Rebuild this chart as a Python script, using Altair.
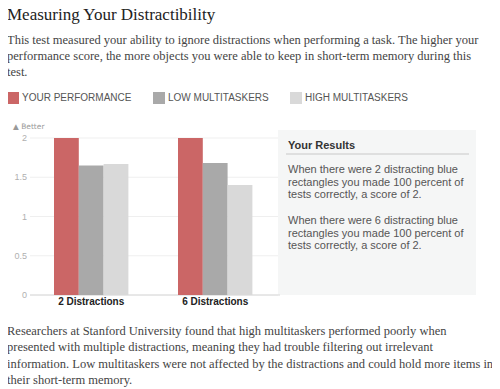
import altair as alt
import pandas as pd

# ---- data ----
groups = ["2 Distractions", "6 Distractions"]
series = ["Your Performance", "Low Multitaskers", "High Multitaskers"]
values_2 = [2.0, 1.65, 1.67]
values_6 = [2.0, 1.68, 1.40]
colors = ["#cb6666", "#a9a9a9", "#d9d9d9"]
y_ticks = [0, 0.5, 1, 1.5, 2]
y_tick_labels = ["0", "0.5", "1", "1.5", "2"]

title_text = "Measuring Your Distractibility"
intro_lines = [
    "This test measured your ability to ignore distractions when performing a task. The higher your",
    "performance score, the more objects you were able to keep in short-term memory during this",
    "test.",
]
results_title = "Your Results"
results_lines_2 = [
    "When there were 2 distracting blue",
    "rectangles you made 100 percent of",
    "tests correctly, a score of 2.",
]
results_lines_6 = [
    "When there were 6 distracting blue",
    "rectangles you made 100 percent of",
    "tests correctly, a score of 2.",
]
outro_lines = [
    "Researchers at Stanford University found that high multitaskers performed poorly when",
    "presented with multiple distractions, meaning they had trouble filtering out irrelevant",
    "information. Low multitaskers were not affected by the distractions and could hold more items in",
    "their short-term memory.",
]
better_label = "\u25B2 Better"

rows = []
for g, vals in zip(groups, [values_2, values_6]):
    for s, v in zip(series, vals):
        rows.append({"group": g, "series": s, "value": v})
df = pd.DataFrame(rows)
ticks_df = pd.DataFrame({"tick": y_ticks, "label": y_tick_labels})
one = alt.InlineData(values=[{"k": 0}])

SERIF = "Liberation Serif"
SANS = "Liberation Sans"

x_scale = alt.Scale(domain=groups, range=[21.2, 269.2], paddingInner=0.4, paddingOuter=0.2)
y_scale = alt.Scale(domain=[0, 2], range=[287, 130], nice=False, zero=True)

panel = alt.Chart(one).mark_rect(color="#f5f6f6").encode(
    x=alt.value(270), x2=alt.value(468), y=alt.value(122), y2=alt.value(287)
)

grid = alt.Chart(ticks_df).mark_rule(color="#efefef", strokeWidth=1).encode(
    y=alt.Y("tick:Q", scale=y_scale, axis=None),
    x=alt.value(22), x2=alt.value(270),
)
baseline = alt.Chart(ticks_df).transform_filter("datum.tick == 0").mark_rule(
    color="#d8d8d8", strokeWidth=1
).encode(
    y=alt.Y("tick:Q", scale=y_scale, axis=None),
    x=alt.value(22), x2=alt.value(272),
)
tick_text = alt.Chart(ticks_df).mark_text(
    align="right", baseline="middle", font=SANS, fontSize=9, color="#b0b0b0"
).encode(
    y=alt.Y("tick:Q", scale=y_scale, axis=None),
    x=alt.value(19),
    text="label:N",
)

bars = alt.Chart(df).mark_bar().encode(
    x=alt.X("group:N", scale=x_scale, axis=None, sort=groups),
    xOffset=alt.XOffset("series:N", sort=series, scale=alt.Scale(paddingInner=0, paddingOuter=0)),
    y=alt.Y("value:Q", scale=y_scale, axis=None),
    color=alt.Color(
        "series:N",
        sort=series,
        scale=alt.Scale(domain=series, range=colors),
        legend=alt.Legend(
            title=None,
            orient="none",
            legendX=-1,
            legendY=84,
            direction="horizontal",
            symbolType="square",
            symbolSize=144,
            symbolStrokeWidth=0,
            symbolOpacity=1,
            labelFont=SANS,
            labelFontSize=10,
            labelColor="#555555",
            labelOffset=3,
            columnPadding=21,
            labelExpr="upper(datum.label)",
            labelLimit=300,
        ),
    ),
)

group_labels = alt.Chart(pd.DataFrame({"group": groups})).mark_text(
    font=SANS, fontSize=10, fontWeight="bold", color="#222222", baseline="middle"
).encode(
    x=alt.X("group:N", scale=x_scale, axis=None, sort=groups),
    y=alt.value(294),
    text="group:N",
)

better = alt.Chart(one).mark_text(
    align="left", baseline="middle", font="DejaVu Sans", fontSize=7.5, color="#999999"
).encode(x=alt.value(5), y=alt.value(119), text=alt.value(better_label))

title = alt.Chart(one).mark_text(
    align="left", baseline="alphabetic", font=SERIF, fontSize=17, color="#222222"
).encode(x=alt.value(-1), y=alt.value(11.5), text=alt.value(title_text))

intro = alt.Chart(one).mark_text(
    align="left", baseline="top", font=SERIF, fontSize=12.5, color="#444444", lineHeight=16
).encode(x=alt.value(-1), y=alt.value(26), text=alt.value(intro_lines))

res_title = alt.Chart(one).mark_text(
    align="left", baseline="middle", font=SANS, fontSize=11, fontWeight="bold", color="#333333"
).encode(x=alt.value(280), y=alt.value(138), text=alt.value(results_title))

res_rule = alt.Chart(one).mark_rule(color="#c8c8c8").encode(
    x=alt.value(278), x2=alt.value(461), y=alt.value(146)
)

res_text_2 = alt.Chart(one).mark_text(
    align="left", baseline="top", font=SANS, fontSize=11, color="#555555", lineHeight=12.7
).encode(x=alt.value(280), y=alt.value(156), text=alt.value(results_lines_2))

res_text_6 = alt.Chart(one).mark_text(
    align="left", baseline="top", font=SANS, fontSize=11, color="#555555", lineHeight=12.7
).encode(x=alt.value(280), y=alt.value(207), text=alt.value(results_lines_6))

outro = alt.Chart(one).mark_text(
    align="left", baseline="top", font=SERIF, fontSize=12.5, color="#444444", lineHeight=16.3
).encode(x=alt.value(-1), y=alt.value(317), text=alt.value(outro_lines))

chart = alt.layer(
    panel, grid, baseline, tick_text, bars, group_labels, better,
    title, intro, res_title, res_rule, res_text_2, res_text_6, outro,
).properties(
    width=484, height=381, padding=0,
    autosize=alt.AutoSizeParams(type="none"),
    background="white",
).configure_view(stroke=None)

chart.save("out.html", embed_options={"renderer": "svg", "actions": False})
